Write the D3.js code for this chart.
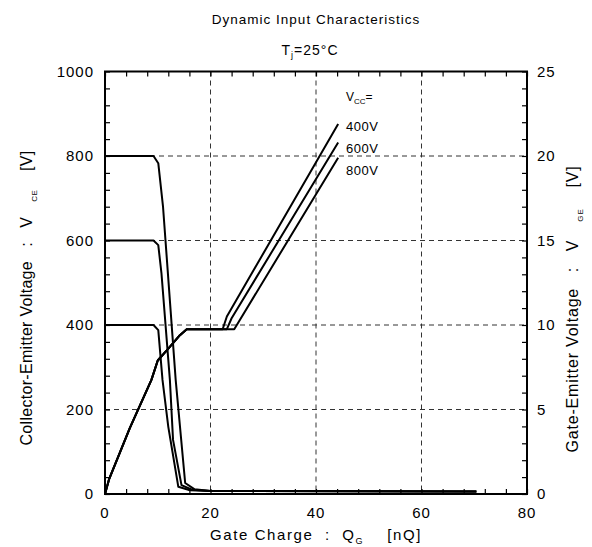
<!DOCTYPE html>
<html>
<head>
<meta charset="utf-8">
<script src="https://cdn.jsdelivr.net/npm/d3@7"></script>
<style>
    body { margin: 0; background: #fff; }
    text { font-family: "Liberation Sans", Arial, sans-serif; fill: #000; }
</style>
</head>
<body>
<div id="chart"></div>
<script>
// =============================================================================
// data
// =============================================================================
var xTicks = [0, 20, 40, 60, 80];
var leftTicks = [0, 200, 400, 600, 800, 1000];
var rightTicks = [0, 5, 10, 15, 20, 25];
var vccLabels = ["400V", "600V", "800V"];

// V_CE curves (left axis)
var vce400Q = [0, 9.2, 10.1, 10.9, 12.0, 13.9, 16.1, 19.9, 70.4];
var vce400V = [400, 400, 388, 270, 159, 17, 9, 7, 6];
var vce600Q = [0, 9.2, 10.1, 10.7, 12.3, 12.9, 14.5, 16.5, 20, 70.4];
var vce600V = [600, 600, 589, 523, 270, 128, 21, 10, 7, 6];
var vce800Q = [0, 9.2, 10.1, 11.0, 13.4, 15.2, 17, 20, 70.4];
var vce800V = [800, 800, 783, 680, 270, 26, 11, 7, 6];

// V_GE curves (right axis)
var vge400Q = [0, 0.8, 4.7, 8.8, 10.0, 12.0, 14.2, 15.5, 22.3, 23.1, 44.2];
var vge400V = [0, 0.9, 3.9, 6.75, 7.9, 8.6, 9.4, 9.75, 9.75, 10.5, 21.9];
var vge600Q = [0, 0.8, 4.7, 8.8, 10.0, 12.0, 14.2, 15.5, 23.1, 24.0, 44.2];
var vge600V = [0, 0.9, 3.9, 6.75, 7.9, 8.6, 9.4, 9.75, 9.75, 10.4, 20.8];
var vge800Q = [0, 0.8, 4.7, 8.8, 10.0, 12.0, 14.2, 15.5, 24.5, 44.2];
var vge800V = [0, 0.9, 3.9, 6.75, 7.9, 8.6, 9.4, 9.75, 9.75, 19.9];

function zip(qs, vs) {
    return qs.map(function (q, i) { return { x: q, y: vs[i] }; });
}

// =============================================================================
// layout
// =============================================================================
var width = 592, height = 547;
var _margin = { top: 71.5, right: 65, bottom: 53, left: 105 },
    _plotWidth = width - _margin.left - _margin.right,
    _plotHeight = height - _margin.top - _margin.bottom;

var svg = d3.select("#chart").append("svg")
    .attr("width", width)
    .attr("height", height);

var g = svg.append("g")
    .attr("transform", "translate(" + _margin.left + "," + _margin.top + ")");

var x = d3.scaleLinear().domain([0, 80]).range([0, _plotWidth]);
var yL = d3.scaleLinear().domain([0, 1000]).range([_plotHeight, 0]);
var yR = d3.scaleLinear().domain([0, 25]).range([_plotHeight, 0]);

// grid ========================================================================
g.selectAll("line.vgrid")
    .data([20, 40, 60])
    .enter().append("line")
    .attr("x1", function (d) { return x(d); })
    .attr("x2", function (d) { return x(d); })
    .attr("y1", 0).attr("y2", _plotHeight)
    .attr("stroke", "#333").attr("stroke-width", 1)
    .attr("stroke-dasharray", "5,4");

g.selectAll("line.hgrid")
    .data([200, 400, 600, 800])
    .enter().append("line")
    .attr("x1", 0).attr("x2", _plotWidth)
    .attr("y1", function (d) { return yL(d); })
    .attr("y2", function (d) { return yL(d); })
    .attr("stroke", "#333").attr("stroke-width", 1)
    .attr("stroke-dasharray", "5,4");

// minor ticks (inward) on all four sides ======================================
var tickLen = 5;
g.append("g")
    .attr("transform", "translate(0," + _plotHeight + ")")
    .call(d3.axisBottom(x).tickValues(d3.range(0, 81, 4)).tickSize(-tickLen).tickFormat(""))
    .call(function (a) { a.select(".domain").remove(); });
g.append("g")
    .call(d3.axisTop(x).tickValues(d3.range(0, 81, 4)).tickSize(-tickLen).tickFormat(""))
    .call(function (a) { a.select(".domain").remove(); });
g.append("g")
    .call(d3.axisLeft(yL).tickValues(d3.range(0, 1001, 40)).tickSize(-tickLen).tickFormat(""))
    .call(function (a) { a.select(".domain").remove(); });
g.append("g")
    .attr("transform", "translate(" + _plotWidth + ",0)")
    .call(d3.axisRight(yR).tickValues(d3.range(0, 26, 1)).tickSize(-tickLen).tickFormat(""))
    .call(function (a) { a.select(".domain").remove(); });
g.selectAll(".tick line").attr("stroke", "#000").attr("stroke-width", 1.2);

// frame
g.append("rect")
    .attr("width", _plotWidth).attr("height", _plotHeight)
    .attr("fill", "none").attr("stroke", "#000").attr("stroke-width", 2);

// tick labels =================================================================
g.selectAll("text.xt")
    .data(xTicks)
    .enter().append("text")
    .attr("x", function (d) { return x(d); })
    .attr("y", _plotHeight + 24)
    .attr("text-anchor", "middle")
    .style("font-size", "15px")
    .style("letter-spacing", "1px")
    .text(function (d) { return d; });

g.selectAll("text.yl")
    .data(leftTicks)
    .enter().append("text")
    .attr("x", -11)
    .attr("y", function (d) { return yL(d) + 5; })
    .attr("text-anchor", "end")
    .style("font-size", "15px")
    .style("letter-spacing", "1px")
    .text(function (d) { return d; });

g.selectAll("text.yr")
    .data(rightTicks)
    .enter().append("text")
    .attr("x", _plotWidth + 10)
    .attr("y", function (d) { return yR(d) + 5; })
    .attr("text-anchor", "start")
    .style("font-size", "15px")
    .style("letter-spacing", "1px")
    .text(function (d) { return d; });

// curves ======================================================================
var lineL = d3.line()
    .x(function (d) { return x(d.x); })
    .y(function (d) { return yL(d.y); });
var lineR = d3.line()
    .x(function (d) { return x(d.x); })
    .y(function (d) { return yR(d.y); });

[zip(vce400Q, vce400V), zip(vce600Q, vce600V), zip(vce800Q, vce800V)].forEach(function (s) {
    g.append("path").datum(s)
        .attr("d", lineL)
        .attr("fill", "none").attr("stroke", "#000").attr("stroke-width", 2)
        .attr("stroke-linejoin", "round");
});
[zip(vge400Q, vge400V), zip(vge600Q, vge600V), zip(vge800Q, vge800V)].forEach(function (s) {
    g.append("path").datum(s)
        .attr("d", lineR)
        .attr("fill", "none").attr("stroke", "#000").attr("stroke-width", 2)
        .attr("stroke-linejoin", "round");
});

// legend text =================================================================
var vcc = svg.append("text")
    .attr("x", 346).attr("y", 101)
    .style("font-size", "12px");
vcc.append("tspan").text("V");
vcc.append("tspan").attr("dy", 3).style("font-size", "8px").text("CC");
vcc.append("tspan").attr("dy", -3).text("=");

svg.selectAll("text.vcc")
    .data(vccLabels)
    .enter().append("text")
    .attr("x", 346)
    .attr("y", function (d, i) { return 130.5 + i * 22; })
    .style("font-size", "13px")
    .style("letter-spacing", "0.5px")
    .text(function (d) { return d; });

// titles ======================================================================
svg.append("text")
    .attr("x", 316).attr("y", 24)
    .attr("text-anchor", "middle")
    .style("font-size", "13.5px")
    .style("letter-spacing", "1px")
    .text("Dynamic Input Characteristics");

var tj = svg.append("text")
    .attr("x", 310).attr("y", 55)
    .attr("text-anchor", "middle")
    .style("font-size", "14px")
    .style("letter-spacing", "1px");
tj.append("tspan").text("T");
tj.append("tspan").attr("dy", 3).style("font-size", "9px").text("j");
tj.append("tspan").attr("dy", -3).text("=25°C");

var xl = svg.append("text")
    .attr("x", 316).attr("y", 540)
    .attr("text-anchor", "middle")
    .style("font-size", "15px")
    .style("letter-spacing", "1.6px")
    .attr("xml:space", "preserve");
xl.append("tspan").text("Gate Charge  :  Q");
xl.append("tspan").attr("dy", 4).style("font-size", "9px").text("G");
xl.append("tspan").attr("dy", -4).text("    [nQ]");

var yl = svg.append("text")
    .attr("transform", "translate(32,298) rotate(-90)")
    .attr("text-anchor", "middle")
    .style("font-size", "16px")
    .style("letter-spacing", "0.3px")
    .attr("xml:space", "preserve");
yl.append("tspan").text("Collector-Emitter Voltage   :   V");
yl.append("tspan").attr("dy", 5).style("font-size", "8px").text("      CE");
yl.append("tspan").attr("dy", -5).text("    [V]");

var yr = svg.append("text")
    .attr("transform", "translate(578,309) rotate(-90)")
    .attr("text-anchor", "middle")
    .style("font-size", "16px")
    .style("letter-spacing", "0.8px")
    .attr("xml:space", "preserve");
yr.append("tspan").text("Gate-Emitter Voltage   :   V");
yr.append("tspan").attr("dy", 5).style("font-size", "8px").text("      GE");
yr.append("tspan").attr("dy", -5).text("    [V]");
</script>
</body>
</html>
